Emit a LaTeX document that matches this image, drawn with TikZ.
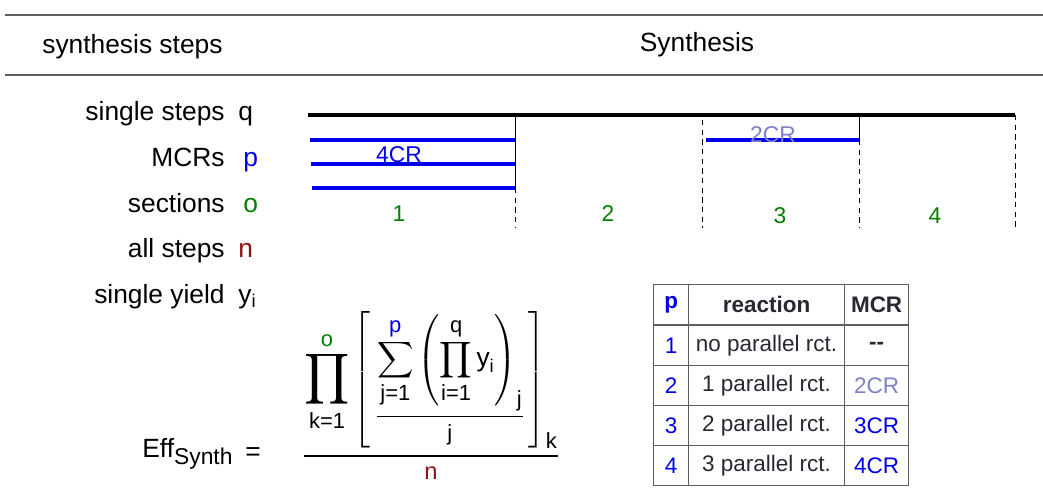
\documentclass[tikz,border=0pt]{standalone}
\usepackage{fontspec}
\setmainfont{Liberation Sans}
\usepackage{amsmath}
\usepackage{graphicx}
\usepackage{xcolor}
\usetikzlibrary{positioning}
\definecolor{mcrblue}{RGB}{0,0,235}
\definecolor{secgreen}{RGB}{0,128,0}
\definecolor{stepred}{RGB}{140,20,20}
\definecolor{palemcr}{RGB}{128,128,200}
\definecolor{rulegray}{RGB}{95,95,95}
\definecolor{celltext}{RGB}{40,40,50}
\newcommand{\limtxt}[1]{\mbox{\fontsize{12.5}{14}\selectfont #1}}
\newcommand{\bigprod}{\mathop{\vcenter{\hbox{\scalebox{1.4}{$\displaystyle\prod$}}}}}

\begin{document}
\begin{tikzpicture}[x=0.02cm, y=-0.02cm,
            rowlabel/.style={anchor=base east, inner sep=0pt, font=\fontsize{15}{18}\selectfont},
            varlabel/.style={anchor=base west, inner sep=0pt, font=\fontsize{15}{18}\selectfont},
            secnum/.style={text=secgreen, font=\fontsize{13}{16}\selectfont},
            mcrtag/.style={inner sep=0pt, font=\fontsize{13}{16}\selectfont},
            mcrline/.style={mcrblue, line width=2.2pt},
            cutsolid/.style={black, line width=0.5pt},
            cutdash/.style={black, line width=0.5pt, dash pattern=on 3pt off 2.5pt},
            headrule/.style={rulegray, line width=1pt},
            cell/.style={draw=rulegray, line width=0.7pt, anchor=north west, inner sep=0pt,
                         minimum height=0.8cm, font=\fontsize{12.8}{15}\selectfont, text=celltext},
            pcol/.style={cell, minimum width=0.7cm, text=mcrblue},
            rcol/.style={cell, minimum width=3.12cm},
            mcol/.style={cell, minimum width=1.28cm}]

        \useasboundingbox (0,0) rectangle (1043,497);

        % header
        \draw[headrule] (5,15) -- (1043,15);
        \draw[headrule] (5,75) -- (1043,75);
        \node[anchor=base west, inner sep=0pt, font=\fontsize{15}{18}\selectfont] (hsteps) at (42,53) {synthesis steps};
        \node[anchor=base, inner sep=0pt, font=\fontsize{15}{18}\selectfont] (hsynth) at (697,51) {Synthesis};

        % legend of symbols
        \node[rowlabel] (lsingle) at (225,120) {single steps};
        \node[rowlabel] (lmcr) at (225,166) {MCRs};
        \node[rowlabel] (lsect) at (225,212) {sections};
        \node[rowlabel] (lall) at (225,257) {all steps};
        \node[rowlabel] (lyield) at (225,303) {single yield};
        \node[varlabel] (vq) at (238,120) {q};
        \node[varlabel, text=mcrblue] (vp) at (243,166) {p};
        \node[varlabel, text=secgreen] (vo) at (243,212) {o};
        \node[varlabel, text=stepred] (vn) at (238,257) {n};
        \node[varlabel] (vy) at (238,303) {y\textsubscript{i}};

        % section borders
        \draw[cutsolid] (515,115) -- (515,188);
        \draw[cutdash] (515,188) -- (515,228);
        \draw[cutdash] (702,120) -- (702,228);
        \draw[cutsolid] (859,115) -- (859,140);
        \draw[cutdash] (859,140) -- (859,228);
        \draw[cutdash] (1015,115) -- (1015,228);

        % single steps and MCRs
        \draw[black, line width=2.6pt] (308,115) -- (1015,115);
        \draw[mcrline] (310,140) -- (515,140);
        \draw[mcrline] (311,164) -- (515,164);
        \draw[mcrline] (312,188) -- (515,188);
        \draw[mcrline] (706,140) -- (859,140);
        \node[mcrtag, anchor=base, text=mcrblue] (tag4cr) at (399,162) {4CR};
        \node[mcrtag, anchor=base, text=palemcr] (tag2cr) at (773,142) {2CR};

        % section numbers
        \node[secnum] (s1) at (399,214) {1};
        \node[secnum] (s2) at (608,214) {2};
        \node[secnum] (s3) at (780,216) {3};
        \node[secnum] (s4) at (935,216) {4};

        % efficiency formula
        \node[anchor=base west, inner sep=0pt, font=\fontsize{15}{18}\selectfont] (effname) at (142,457)
            {Eff\textsubscript{\fontsize{13}{15}\selectfont Synth}};
        \node[anchor=base, inner sep=0pt, font=\fontsize{15}{18}\selectfont] (effeq) at (253,460) {=};
        \node[anchor=base, inner sep=0pt, font=\fontsize{15}{18}\selectfont] (effrhs) at (431,462)
            {$\genfrac{}{}{1.1pt}{0}{\bigprod\limits_{\limtxt{k=1}}^{\limtxt{\color{secgreen}o}}
              \left[\,\vcenter{\hbox{$\displaystyle\genfrac{}{}{0.9pt}{0}
                {\displaystyle\sum\limits_{\limtxt{j=1}}^{\limtxt{\color{mcrblue}p}}
                 \left(\prod\limits_{\limtxt{i=1}}^{\limtxt{q}}\text{y}_{\text{i}}\right)_{\limtxt{j}}}
                {\limtxt{j}}$}}\,\right]_{\limtxt{k}}}
              {\limtxt{\fontsize{13.5}{15}\selectfont\color{stepred}n}}$};

        % table of MCR types
        \node[pcol, font=\fontsize{12.8}{15}\selectfont\bfseries] (thp) at (653,284) {p};
        \node[rcol, font=\fontsize{12.8}{15}\selectfont\bfseries] (thr) at (688,284) {reaction};
        \node[mcol, font=\fontsize{12.8}{15}\selectfont\bfseries] (thm) at (844,284) {MCR};
        \node[pcol] (t1p) at (653,325) {1};
        \node[rcol] (t1r) at (688,325) {no parallel rct.};
        \node[mcol, font=\fontsize{12.8}{15}\selectfont\bfseries] (t1m) at (844,325) {{-}{-}};
        \node[pcol] (t2p) at (653,365) {2};
        \node[rcol] (t2r) at (688,365) {1 parallel rct.};
        \node[mcol, text=palemcr] (t2m) at (844,365) {2CR};
        \node[pcol] (t3p) at (653,405) {3};
        \node[rcol] (t3r) at (688,405) {2 parallel rct.};
        \node[mcol, text=mcrblue] (t3m) at (844,405) {3CR};
        \node[pcol] (t4p) at (653,445) {4};
        \node[rcol] (t4r) at (688,445) {3 parallel rct.};
        \node[mcol, text=mcrblue] (t4m) at (844,445) {4CR};

    \end{tikzpicture}
\end{document}
